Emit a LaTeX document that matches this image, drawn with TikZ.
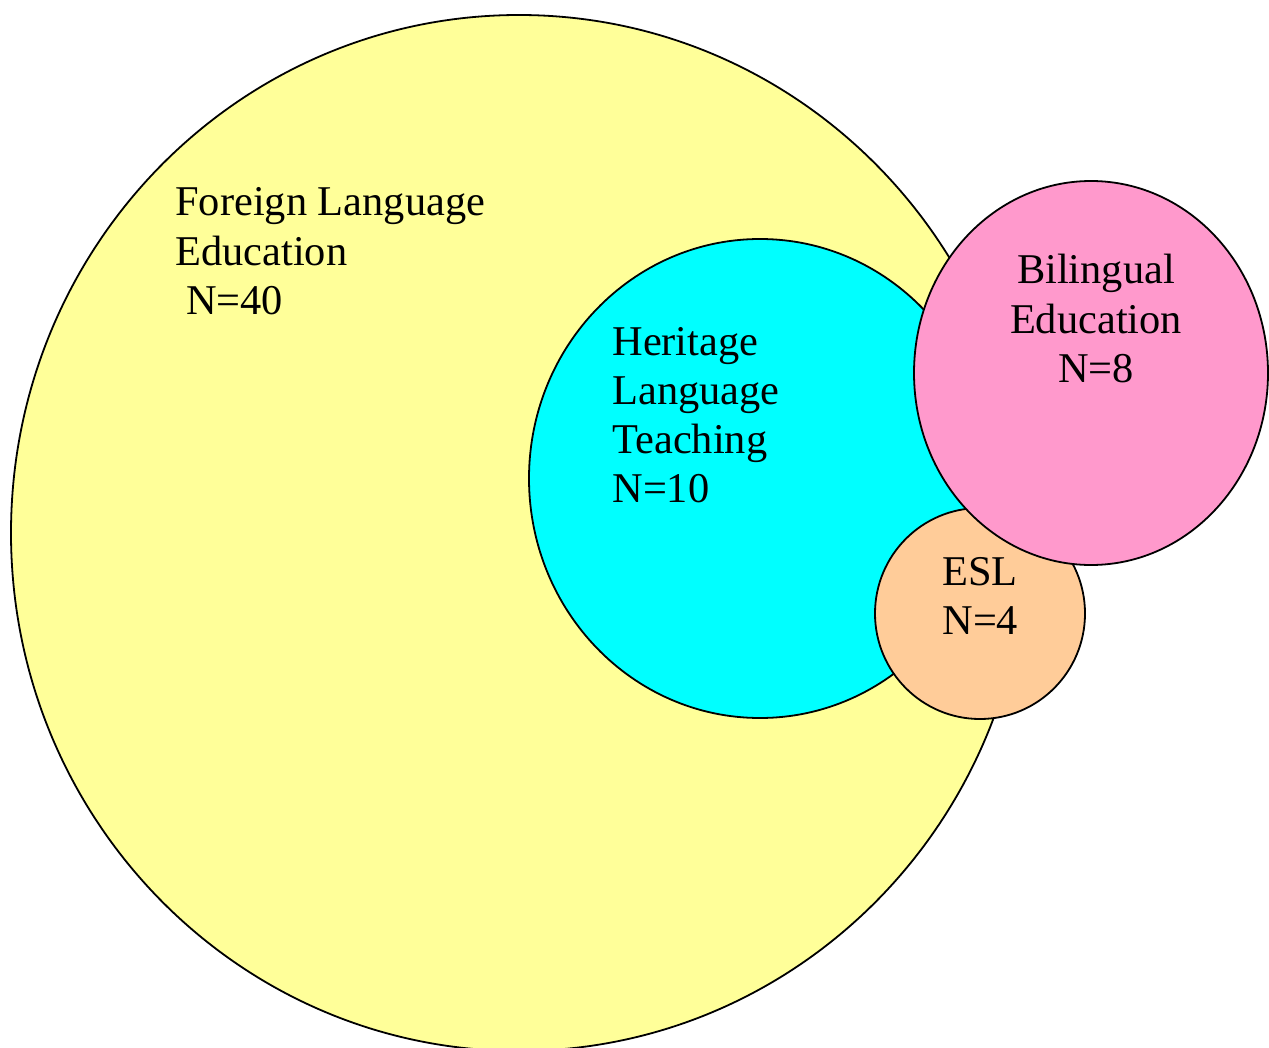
\documentclass[tikz,border=0pt]{standalone}
\usepackage{fontspec}
\setmainfont{Liberation Serif}
\definecolor{flyellow}{RGB}{255,255,153}
\definecolor{hlcyan}{RGB}{0,255,255}
\definecolor{bepink}{RGB}{255,153,204}
\definecolor{eslorange}{RGB}{255,204,153}
\tikzset{
  setshape/.style={draw=black, line width=0.9pt},
  setlabel/.style={inner sep=0pt, font=\fontsize{21.2}{24.65}\selectfont}
}
\begin{document}
\begin{tikzpicture}[x=0.5pt,y=-0.5pt]
\useasboundingbox (0,0) rectangle (1269,1048);
% sets
\begin{scope}
\clip (0,0) rectangle (1269,1048);
\path[setshape, fill=flyellow] (519,533) ellipse [x radius=254pt, y radius=259pt];
\end{scope}
\path[setshape, fill=hlcyan] (760,478.5) ellipse [x radius=115.5pt, y radius=119.75pt];
\path[setshape, fill=eslorange] (980,613.5) ellipse [x radius=52.5pt, y radius=52.75pt];
\path[setshape, fill=bepink] (1091,373) ellipse [x radius=88.5pt, y radius=96pt];
% labels
\node[setlabel, anchor=base west] (fle) at (175,216)
  {\begin{tabular}[t]{@{}l@{}}Foreign Language\\Education\\\ N=40\end{tabular}};
\node[setlabel, anchor=base west] (hlt) at (612,355)
  {\begin{tabular}[t]{@{}l@{}}Heritage\\Language\\Teaching\\N=10\end{tabular}};
\node[setlabel, anchor=base] (bil) at (1096,284)
  {\begin{tabular}[t]{@{}c@{}}Bilingual\\Education\\N=8\end{tabular}};
\node[setlabel, anchor=base west] (esl) at (942,585)
  {\begin{tabular}[t]{@{}l@{}}ESL\\N=4\end{tabular}};
\end{tikzpicture}
\end{document}
